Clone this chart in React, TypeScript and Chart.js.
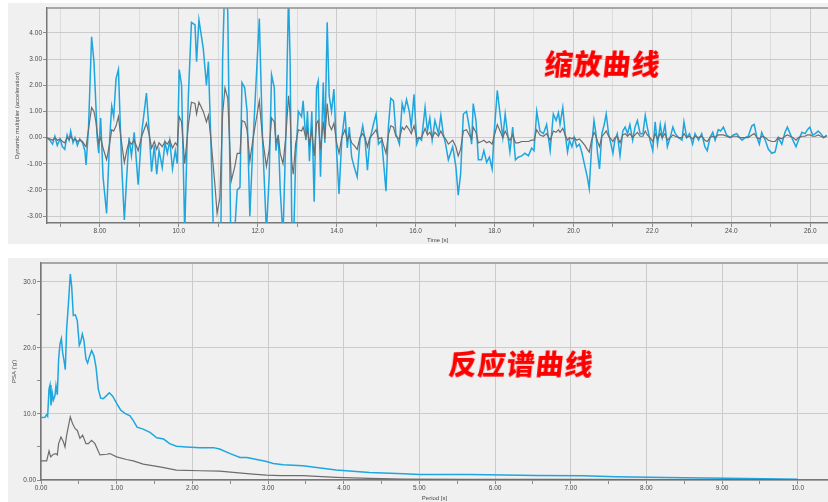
import React, { useEffect, useRef } from "react";
import { Chart, registerables } from "chart.js";
Chart.register(...registerables);

const FONT = "'Liberation Sans', Arial, sans-serif";
const BLUE = "#1ea6df";
const GREY = "#6d6d6d";

// ---------- Top chart: time history ----------
const timeS = [
  6.66, 6.73, 6.80, 6.86, 6.92, 6.99, 7.05, 7.11, 7.17, 7.22, 7.26, 7.32, 7.37, 7.43, 7.49, 7.56, 7.62,
  7.65, 7.71, 7.79, 7.85, 7.90, 7.93, 7.97, 8.02, 8.08, 8.17, 8.25, 8.30, 8.35, 8.41, 8.47, 8.55, 8.62, 8.68, 8.74, 8.80,
  8.87, 8.97, 9.06, 9.18, 9.25, 9.31, 9.38, 9.44, 9.50, 9.58, 9.65, 9.71, 9.77, 9.84, 9.91, 9.96, 10.01, 10.07, 10.15, 10.24,
  10.32, 10.41, 10.45, 10.51, 10.62, 10.70, 10.75, 10.81, 10.92, 10.97, 11.04, 11.11, 11.17, 11.24, 11.33, 11.42, 11.48, 11.55, 11.60, 11.67,
  11.73, 11.80, 11.87, 11.94, 12.04, 12.12, 12.22, 12.29,
  12.35, 12.42, 12.46, 12.52, 12.57, 12.64, 12.71, 12.78, 12.82, 12.86,
  12.90, 12.96, 13.03, 13.11, 13.15, 13.22, 13.26, 13.31, 13.37, 13.43,
  13.49, 13.53, 13.59, 13.66, 13.70, 13.76, 13.81, 13.87, 13.93, 14.00,
  14.06, 14.13, 14.21, 14.27, 14.32, 14.38, 14.44, 14.52, 14.59, 14.66,
  14.72, 14.78, 14.84, 14.93, 15.00, 15.06, 15.14, 15.18, 15.25, 15.31,
  15.37, 15.44, 15.50, 15.59, 15.66, 15.71, 15.77, 15.84, 15.89, 15.96,
  16.03, 16.09, 16.15, 16.24, 16.30, 16.36, 16.42, 16.49, 16.58, 16.64,
  16.70, 16.76, 16.83, 16.94, 17.02, 17.08, 17.14, 17.21, 17.29, 17.36,
  17.42, 17.46, 17.53, 17.59, 17.67, 17.73, 17.80, 17.87, 17.94, 17.99,
  18.07, 18.14, 18.21, 18.27, 18.33, 18.39, 18.46, 18.53, 18.60, 18.69,
  18.77, 18.86, 18.94, 19.00, 19.07, 19.15, 19.24, 19.32,
  19.41, 19.49, 19.56, 19.62, 19.66, 19.73, 19.79, 19.85, 19.90, 19.96,
  20.02, 20.08, 20.15, 20.21, 20.29, 20.35, 20.40, 20.46, 20.52, 20.57,
  20.61, 20.66, 20.72, 20.78, 20.83, 20.89, 20.95, 21.00, 21.05, 21.11,
  21.18, 21.25, 21.31, 21.37, 21.43, 21.50, 21.56, 21.62, 21.69, 21.76,
  21.82, 21.87, 21.94, 22.01, 22.07, 22.13, 22.20, 22.25, 22.32, 22.38,
  22.45, 22.52, 22.58, 22.66, 22.75, 22.80, 22.87, 22.94, 23.02, 23.08,
  23.17, 23.25, 23.33, 23.39, 23.46, 23.53, 23.59, 23.67, 23.73, 23.80,
  23.88, 23.97, 24.05, 24.14, 24.21, 24.27, 24.35, 24.43, 24.52, 24.58,
  24.65, 24.71, 24.77, 24.86, 24.94, 25.03, 25.11, 25.19, 25.28, 25.36,
  25.42, 25.49, 25.56, 25.64, 25.70, 25.79, 25.87, 25.93, 25.99, 26.06,
  26.13, 26.20, 26.27, 26.34, 26.42,
];

const scaledAccel = [
  0.0, -0.1, -0.25, 0.05, -0.3, -0.05, -0.35, -0.45, 0.1, -0.1, 0.25, -0.2, 0.0, -0.3, -0.05, -0.2, -0.5,
  -1.05, 0.3, 3.85, 2.9, 1.2, 0.0, -0.6, 0.75, -1.5, -2.9, 0.0, 1.2, 0.8, 2.25, 2.6, -1.0, -3.15, -1.5, 0.0, -0.7,
  0.2, -1.8, 0.2, 1.7, 0.2, -1.3, -0.3, -1.4, -0.5, -1.15, -0.2, -0.6, -0.1, -1.2, -0.5, -1.0, 2.6, 2.0, -3.6, 1.5,
  4.4, 4.3, 2.9, 4.5, 3.4, 2.0, 2.9, 0.0, -6.0, -9.5, -7.5, 3.0, 6.2, 4.8, -5.3, -3.5, -2.0, -1.9, 2.1, 1.9,
  1.0, -3.0, -0.5, 1.6, 4.55, 0.0, -3.6, -1.5,
  2.4, 1.9, -0.5, 0.1, -2.0, -3.8, 0.0, 5.5, 3.0, -3.0,
  -4.5, -0.8, 1.0, 0.8, 1.4, -0.1, 1.0, -0.9, 1.0, -2.45,
  1.9, 2.15, -1.5, 2.1, -0.2, 4.4, 1.6, 1.0, 1.85, -0.6,
  -2.15, -0.05, 1.0, -0.4, 0.4, -0.75, -1.1, -1.5, -0.1, 0.45,
  -0.1, -1.25, -0.1, 0.5, 0.9, -0.25, -0.1, -0.8, -2.05, 0.4,
  1.5, 1.4, 0.15, -0.25, 1.3, 1.0, 1.45, 1.0, 0.4, 1.65,
  -0.25, 0.0, -0.1, 1.15, 0.25, 0.75, -0.1, 0.65, 0.15, 0.85,
  0.15, -0.25, -0.85, -0.35, -1.1, -2.2, -1.4, 0.9, 1.0, 0.4,
  -0.25, 1.3, 0.65, -0.85, -0.85, -0.5, -0.95, -0.75, -1.2, 0.15,
  1.8, 0.9, 0.0, 0.9, 0.15, -0.55, 0.4, -0.85, -0.75, -0.7,
  -0.6, -0.7, -0.4, -0.5, 1.0, 0.25, 0.15, 0.5,
  -0.5, 0.9, 0.65, 0.95, 0.5, 1.15, 0.15, -0.55, -0.1, -0.35,
  0.0, -0.35, -0.25, -0.55, -1.1, -1.5, -1.95, -0.35, 0.65, 0.15,
  -0.6, -1.2, 0.15, 0.5, 0.9, 0.15, -0.25, -0.6, -0.1, 0.15,
  -0.7, 0.25, 0.4, 0.15, 0.5, -0.1, 0.4, 0.65, 0.15, 0.15,
  0.85, 0.4, -0.1, -0.5, 0.6, -0.25, 0.5, 0.0, 0.5, -0.35,
  0.0, 0.4, 0.15, 0.0, -0.1, 0.6, 0.0, 0.15, -0.25, 0.15,
  -0.1, 0.15, -0.35, -0.5, 0.0, 0.2, -0.1, 0.3, 0.25, 0.4,
  0.1, 0.0, 0.1, 0.15, 0.0, -0.1, 0.0, 0.05, 0.45, 0.5,
  0.0, -0.25, 0.2, -0.1, -0.45, -0.6, -0.55, 0.0, -0.25, 0.2,
  0.4, 0.15, -0.1, -0.35, -0.1, 0.2, 0.15, 0.3, 0.4, 0.1,
  0.15, 0.25, 0.15, 0.0, 0.1,
];

const originalAccel = [
  -0.02, -0.05, -0.1, 0.0, -0.1, -0.05, -0.15, -0.2, 0.0, -0.08, 0.05, -0.1, -0.05, -0.15, -0.1, -0.15, -0.3,
  -0.35, 0.3, 1.15, 1.0, 0.6, 0.2, -0.2, 0.0, -0.4, -0.85, -0.2, 0.3, 0.25, 0.45, 0.8, -0.2, -0.95, -0.5, -0.15, -0.25,
  -0.1, -0.5, 0.05, 0.55, 0.1, -0.4, -0.15, -0.45, -0.2, -0.35, -0.15, -0.25, -0.1, -0.4, -0.2, -0.3, 0.8, 0.6, -1.0, 0.45,
  1.35, 1.3, 0.9, 1.35, 1.0, 0.6, 0.85, 0.0, -1.9, -2.9, -2.3, 0.9, 1.9, 1.5, -1.65, -1.1, -0.6, -0.6, 0.65, 0.6,
  0.3, -0.9, -0.15, 0.5, 1.4, 0.0, -1.1, -0.45,
  0.75, 0.6, -0.15, 0.05, -0.6, -1.0, 0.0, 1.6, 0.9, -0.9,
  -1.4, -0.25, 0.3, 0.25, 0.4, 0.0, 0.3, -0.25, 0.3, -0.7,
  0.55, 0.65, -0.45, 0.6, -0.05, 1.3, 0.5, 0.3, 0.55, -0.2,
  -0.6, 0.0, 0.3, -0.1, 0.1, -0.2, -0.3, -0.45, 0.0, 0.15,
  0.0, -0.35, 0.0, 0.15, 0.3, -0.05, 0.0, -0.25, -0.6, 0.1,
  0.45, 0.4, 0.05, -0.05, 0.4, 0.3, 0.45, 0.3, 0.15, 0.45,
  -0.05, 0.0, 0.0, 0.35, 0.1, 0.2, 0.0, 0.2, 0.05, 0.25,
  0.05, -0.05, -0.25, -0.1, -0.35, -0.7, -0.45, 0.25, 0.3, 0.1,
  -0.05, 0.4, 0.2, -0.2, -0.15, -0.1, -0.2, -0.15, -0.25, 0.05,
  0.5, 0.25, 0.0, 0.25, 0.05, -0.1, 0.1, -0.2, -0.2, -0.15,
  -0.15, -0.15, -0.1, -0.1, 0.3, 0.1, 0.05, 0.15,
  -0.1, 0.25, 0.2, 0.3, 0.2, 0.35, 0.1, -0.1, 0.0, -0.05,
  0.0, -0.1, -0.05, -0.15, -0.3, -0.45, -0.55, -0.1, 0.2, 0.05,
  -0.15, -0.35, 0.05, 0.15, 0.25, 0.05, -0.05, -0.15, 0.0, 0.05,
  -0.2, 0.1, 0.15, 0.05, 0.15, 0.0, 0.1, 0.2, 0.05, 0.05,
  0.25, 0.1, 0.0, -0.15, 0.15, -0.05, 0.15, 0.0, 0.15, -0.1,
  0.0, 0.1, 0.05, 0.0, 0.0, 0.15, 0.0, 0.05, -0.05, 0.05,
  0.0, 0.05, -0.1, -0.15, 0.0, 0.05, 0.0, 0.1, 0.1, 0.1,
  0.05, 0.0, 0.05, 0.05, 0.0, 0.0, 0.0, 0.0, 0.1, 0.15,
  0.0, -0.05, 0.05, 0.0, -0.1, -0.15, -0.15, 0.0, -0.05, 0.05,
  0.1, 0.05, 0.0, -0.1, 0.0, 0.05, 0.05, 0.1, 0.1, 0.05,
  0.05, 0.1, 0.05, 0.0, 0.05,
];

const timeMajorTicks = [8, 10, 12, 14, 16, 18, 20, 22, 24, 26];
const timeMajorLabels = ["8.00", "10.0", "12.0", "14.0", "16.0", "18.0", "20.0", "22.0", "24.0", "26.0"];
const timeMinorTicks = [7, 9, 11, 13, 15, 17, 19, 21, 23, 25];
const accelTicks = [-3, -2, -1, 0, 1, 2, 3, 4];
const accelLabels = ["-3.00", "-2.00", "-1.00", "0.00", "1.00", "2.00", "3.00", "4.00"];

// ---------- Bottom chart: response spectrum ----------
const periodScaled = [
  0.0, 0.053, 0.075, 0.088, 0.106, 0.119, 0.132, 0.15, 0.163, 0.185,
  0.198, 0.216, 0.233, 0.251, 0.269, 0.286, 0.308, 0.321, 0.339, 0.361,
  0.387, 0.405, 0.427, 0.454, 0.48, 0.506, 0.524, 0.546, 0.568, 0.594,
  0.616, 0.638, 0.669, 0.70, 0.727, 0.757, 0.788, 0.823, 0.859, 0.903,
  0.947, 1.0, 1.052, 1.11, 1.176, 1.22, 1.27, 1.35, 1.44, 1.53,
  1.62, 1.70, 1.79, 1.92, 2.10, 2.28, 2.36, 2.50, 2.63, 2.72,
  2.85, 2.98, 3.07, 3.2, 3.46, 3.90, 4.34, 4.79, 5.0, 5.66,
  6.11, 6.55, 7.16, 7.6, 8.48, 9.05, 9.8, 10.0,
];
const psaScaled = [
  9.45, 9.5, 9.9, 9.65, 13.8, 14.4, 11.3, 13.1, 12.1, 12.8,
  14.3, 12.9, 18.3, 20.6, 21.4, 19.3, 17.8, 16.7, 22.9, 26.4,
  31.2, 29.4, 24.9, 25.0, 24.1, 20.4, 20.9, 22.1, 21.1, 18.3,
  17.7, 18.6, 19.6, 18.8, 17.1, 13.8, 12.4, 12.3, 12.7, 13.2,
  12.7, 11.6, 10.6, 10.1, 9.7, 9.0, 8.0, 7.7, 7.2, 6.4,
  6.2, 5.5, 5.1, 5.0, 4.9, 4.9, 4.7, 4.0, 3.4, 3.4,
  3.1, 2.8, 2.5, 2.3, 2.15, 1.5, 1.15, 0.95, 0.85, 0.85,
  0.75, 0.7, 0.65, 0.5, 0.35, 0.25, 0.15, 0.1,
];
const periodOriginal = [
  0.0, 0.075, 0.106, 0.128, 0.163, 0.198, 0.216, 0.233, 0.264, 0.295,
  0.317, 0.339, 0.387, 0.418, 0.449, 0.48, 0.515, 0.55, 0.594, 0.625,
  0.669, 0.713, 0.779, 0.867, 0.911, 0.999, 1.13, 1.22, 1.35, 1.57,
  1.79, 2.10, 2.36, 2.54, 2.80, 2.98, 3.16, 3.46, 3.90, 4.34,
  4.79, 5.66, 7.0, 8.5, 10.0,
];
const psaOriginal = [
  2.9, 2.9, 4.4, 3.5, 3.9, 4.0, 3.8, 5.5, 6.5, 5.8,
  5.0, 6.8, 9.55, 8.5, 7.8, 7.5, 6.3, 6.8, 5.5, 5.5,
  6.0, 5.5, 3.8, 3.9, 4.0, 3.5, 3.1, 2.9, 2.4, 2.0,
  1.5, 1.4, 1.35, 1.15, 0.9, 0.75, 0.65, 0.65, 0.4, 0.25,
  0.15, 0.1, 0.08, 0.06, 0.05,
];

const periodTicks = [0, 1, 2, 3, 4, 5, 6, 7, 8, 9, 10];
const periodLabels = ["0.00", "1.00", "2.00", "3.00", "4.00", "5.00", "6.00", "7.00", "8.00", "9.00", "10.0"];
const periodMinorTicks = [0.5, 1.5, 2.5, 3.5, 4.5, 5.5, 6.5, 7.5, 8.5, 9.5];
const psaTicks = [0, 10, 20, 30];
const psaLabels = ["0.00", "10.0", "20.0", "30.0"];
const psaMinorTicks = [5, 15, 25];

type AxisOpts = {
  min: number; max: number; major: number[]; labels: string[]; minor: number[];
  minorGrid: boolean; title: string; titlePad: number; size: number; isY: boolean;
};

function makeAxis(o: AxisOpts) {
  const all = [...o.major, ...o.minor].sort((a, b) => a - b);
  return {
    type: "linear",
    position: o.isY ? "left" : "bottom",
    min: o.min,
    max: o.max,
    afterBuildTicks: (s: any) => { s.ticks = all.map((v) => ({ value: v })); },
    afterFit: (s: any) => { if (o.isY) s.width = o.size; else s.height = o.size; },
    ticks: {
      autoSkip: false, maxRotation: 0, minRotation: 0, padding: o.isY ? 1 : 0,
      color: "#4a4a4a", font: { family: FONT, size: 6.5 },
      callback: (v: number) => { const i = o.major.indexOf(v); return i >= 0 ? o.labels[i] : ""; },
    },
    grid: {
      drawTicks: true, tickLength: 4, tickColor: "#8c8c8c", lineWidth: 1,
      color: (ctx: any) => {
        const v = ctx.tick ? ctx.tick.value : NaN;
        if (o.major.includes(v)) return "#cbcbcb";
        return o.minorGrid ? "#dcdcdc" : "rgba(0,0,0,0)";
      },
    },
    border: { display: true, color: "#777777", width: 1.5 },
    title: {
      display: true, text: o.title, color: "#4a4a4a", font: { family: FONT, size: 6 },
      padding: o.isY ? { top: o.titlePad, bottom: 0 } : { top: 0, bottom: o.titlePad },
    },
  };
}

const framePlugin = {
  id: "frame",
  beforeDraw(chart: any) {
    const { ctx, width, height } = chart;
    ctx.save();
    ctx.fillStyle = "#f0f0f0";
    ctx.fillRect(0, 0, width, height);
    ctx.restore();
  },
  afterDraw(chart: any) {
    const { ctx, chartArea: a } = chart;
    ctx.save();
    ctx.strokeStyle = "#8f8f8f";
    ctx.lineWidth = 1.5;
    ctx.beginPath();
    ctx.moveTo(a.left, a.top);
    ctx.lineTo(a.right, a.top);
    ctx.stroke();
    ctx.restore();
  },
};

function baseOptions(x: any, y: any) {
  return {
    responsive: false,
    animation: false,
    devicePixelRatio: 1,
    layout: { padding: { top: 4, right: 0, bottom: 0, left: 0 } },
    elements: { point: { radius: 0 }, line: { tension: 0 } },
    plugins: { legend: { display: false }, tooltip: { enabled: false } },
    scales: { x, y },
  };
}

export default function App() {
  const topRef = useRef<HTMLCanvasElement | null>(null);
  const botRef = useRef<HTMLCanvasElement | null>(null);

  useEffect(() => {
    const top = new Chart(topRef.current as HTMLCanvasElement, {
      type: "line",
      data: {
        datasets: [
          { data: timeS.map((t, i) => ({ x: t, y: originalAccel[i] })), borderColor: GREY, borderWidth: 1.2 },
          { data: timeS.map((t, i) => ({ x: t, y: scaledAccel[i] })), borderColor: BLUE, borderWidth: 1.5 },
        ],
      },
      options: baseOptions(
        makeAxis({ min: 6.66, max: 26.45, major: timeMajorTicks, labels: timeMajorLabels, minor: timeMinorTicks,
          minorGrid: true, title: "Time [s]", titlePad: 0, size: 21, isY: false }),
        makeAxis({ min: -3.263, max: 4.953, major: accelTicks, labels: accelLabels, minor: [],
          minorGrid: false, title: "Dynamic multiplier (acceleration)", titlePad: 6, size: 39, isY: true }),
      ) as any,
      plugins: [framePlugin],
    } as any);

    const bot = new Chart(botRef.current as HTMLCanvasElement, {
      type: "line",
      data: {
        datasets: [
          { data: periodOriginal.map((p, i) => ({ x: p, y: psaOriginal[i] })), borderColor: GREY, borderWidth: 1.2 },
          { data: periodScaled.map((p, i) => ({ x: p, y: psaScaled[i] })), borderColor: BLUE, borderWidth: 1.5 },
        ],
      },
      options: baseOptions(
        makeAxis({ min: 0, max: 10.4, major: periodTicks, labels: periodLabels, minor: periodMinorTicks,
          minorGrid: false, title: "Period [s]", titlePad: 0, size: 22, isY: false }),
        makeAxis({ min: 0, max: 32.87, major: psaTicks, labels: psaLabels, minor: psaMinorTicks,
          minorGrid: false, title: "PSA ('g')", titlePad: 3, size: 33, isY: true }),
      ) as any,
      plugins: [framePlugin],
    } as any);

    return () => { top.destroy(); bot.destroy(); };
  }, []);

  const cjk: React.CSSProperties = {
    position: "absolute",
    color: "#ff0000",
    fontFamily: "'Noto Sans CJK SC', sans-serif",
    fontWeight: 900,
    fontSize: 28,
    lineHeight: "30px",
    letterSpacing: 1,
    whiteSpace: "nowrap",
    transform: "skewX(-6deg)",
  };

  return (
    <div style={{ position: "fixed", left: 0, top: 0, width: 828, height: 502, background: "#ffffff", overflow: "hidden" }}>
      <canvas ref={topRef} width={820} height={241}
        style={{ position: "absolute", left: 8, top: 3, width: 820, height: 241 }} />
      <canvas ref={botRef} width={820} height={244}
        style={{ position: "absolute", left: 8, top: 258, width: 820, height: 244 }} />
      <div style={{ ...cjk, left: 545, top: 48 }}>缩放曲线</div>
      <div style={{ ...cjk, left: 449, top: 348 }}>反应谱曲线</div>
    </div>
  );
}
